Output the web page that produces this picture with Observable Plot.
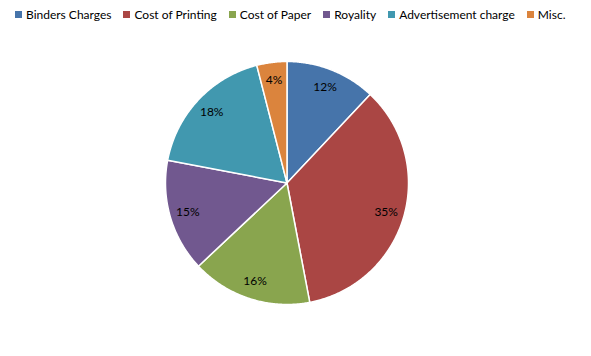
<!DOCTYPE html>
<html>
<head>
<meta charset="utf-8">
<script src="https://cdn.jsdelivr.net/npm/d3@7"></script>
<script src="https://cdn.jsdelivr.net/npm/@observablehq/plot@0.6"></script>
<style>
  body { margin: 0; background: #fff; font-family: Lato, "Open Sans", sans-serif; }
  #wrap { width: 591px; height: 356px; position: relative; overflow: hidden; }
  #legend { height: 29px; display: flex; align-items: center; padding-left: 15px; box-sizing: border-box; font-size: 12px; color: #000; }
  .item { display: flex; align-items: center; margin-right: 12px; white-space: nowrap; }
  .sw { width: 7px; height: 7px; margin-right: 4px; }
</style>
</head>
<body>
<div id="wrap">
  <div id="legend"></div>
  <div id="chart"></div>
</div>
<script>
const categories = ["Binders Charges", "Cost of Printing", "Cost of Paper", "Royality", "Advertisement charge", "Misc."];
const values = [12, 35, 16, 15, 18, 4];
const colors = ["#4674AA", "#AA4644", "#89A54E", "#71588F", "#4198AF", "#DB843D"];

// legend
const legend = document.getElementById("legend");
categories.forEach((c, i) => {
  const it = document.createElement("div");
  it.className = "item";
  const sw = document.createElement("div");
  sw.className = "sw";
  sw.style.background = colors[i];
  const t = document.createElement("span");
  t.textContent = c;
  it.appendChild(sw); it.appendChild(t);
  legend.appendChild(it);
});

const total = d3.sum(values);
const arcs = d3.pie().sort(null).value(d => d)(values);

// slice polygons in unit-circle data coordinates
const slicePts = [];
arcs.forEach((a, i) => {
  const cat = categories[i];
  slicePts.push({cat, x: 0, y: 0});
  const n = Math.max(2, Math.ceil((a.endAngle - a.startAngle) / (Math.PI / 360)));
  for (let k = 0; k <= n; k++) {
    const t = a.startAngle + (a.endAngle - a.startAngle) * k / n;
    slicePts.push({cat, x: Math.sin(t), y: Math.cos(t)});
  }
  slicePts.push({cat, x: 0, y: 0});
});

const labels = arcs.map((a, i) => {
  const m = (a.startAngle + a.endAngle) / 2;
  return {cat: categories[i], x: 0.85 * Math.sin(m), y: 0.85 * Math.cos(m), text: Math.round(values[i] / total * 100) + "%"};
});

const W = 591, H = 327, R = 121.5, CX = 286.5, CY = 153.5;

const chart = Plot.plot({
  width: W,
  height: H,
  margin: 0,
  x: {domain: [-CX / R, (W - CX) / R], axis: null},
  y: {domain: [-(H - CY) / R, CY / R], axis: null},
  color: {domain: categories, range: colors},
  marks: [
    Plot.line(slicePts, {x: "x", y: "y", z: "cat", fill: "cat", stroke: "#fff", strokeWidth: 1.5, strokeLinejoin: "round", curve: "linear"}),
    Plot.text(labels, {x: "x", y: "y", text: "text", fill: "#000", fontSize: 12, fontFamily: "Lato, 'Open Sans', sans-serif"})
  ]
});
document.getElementById("chart").appendChild(chart);
</script>
</body>
</html>
